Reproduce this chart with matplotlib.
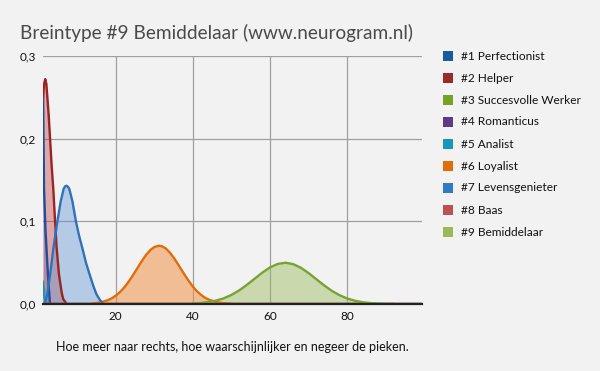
import matplotlib

matplotlib.use("Agg")
import matplotlib.pyplot as plt  # noqa: E402
from matplotlib.patches import Rectangle  # noqa: E402

# ----------------------------------------------------------------------------
# Data
# ----------------------------------------------------------------------------
TITLE = "Breintype #9 Bemiddelaar (www.neurogram.nl)"
NOTE = "Hoe meer naar rechts, hoe waarschijnlijker en negeer de pieken."

labels = [
    "#1 Perfectionist",
    "#2 Helper",
    "#3 Succesvolle Werker",
    "#4 Romanticus",
    "#5 Analist",
    "#6 Loyalist",
    "#7 Levensgenieter",
    "#8 Baas",
    "#9 Bemiddelaar",
]
legend_colors = ["#1c5aa6", "#9c2a2a", "#76a22a", "#5e3a8c", "#1a94b8",
                 "#e36c0a", "#2f7bc6", "#c0504d", "#9bbb59"]

perfectionist_x = [1.17, 1.3, 1.45, 1.8, 2.1, 2.4, 2.7, 3.0]
perfectionist_y = [0.262, 0.200, 0.138, 0.090, 0.065, 0.040, 0.018, 0.0]

helper_x = [1.17, 1.45, 1.75, 2.05, 2.3, 2.65, 3.0, 3.4, 3.85, 4.3, 4.7, 5.3, 6.0, 6.4, 7.3]
helper_y = [0.250, 0.266, 0.272, 0.266, 0.250, 0.228, 0.200, 0.168, 0.138,
            0.100, 0.068, 0.036, 0.014, 0.006, 0.0]

werker_x = [1.17, 99.35]
werker_y = [0.0, 0.0]

romanticus_x = [1.17, 99.35]
romanticus_y = [0.0, 0.0]

analist_x = [1.17, 1.35, 1.5, 1.8]
analist_y = [0.027, 0.018, 0.009, 0.0]

loyalist_x = [14, 16, 18, 19, 20, 21, 22, 23, 24, 25, 26, 27, 28, 29, 30, 31.2, 32, 33,
              34, 35, 36, 37, 38, 39, 40, 41, 42, 43, 44, 46, 48, 50]
loyalist_y = [0.0007, 0.0019, 0.0046, 0.0069, 0.0100, 0.0140, 0.0188, 0.0247, 0.0314,
              0.0387, 0.0462, 0.0535, 0.0601, 0.0653, 0.0689, 0.0705, 0.0698, 0.0671,
              0.0624, 0.0562, 0.0492, 0.0417, 0.0343, 0.0273, 0.0210, 0.0157, 0.0114,
              0.0080, 0.0055, 0.0023, 0.0009, 0.0003]

genieter_x = [1.6, 2.2, 3.0, 3.85, 4.9, 5.75, 6.5, 6.9, 7.3, 7.7, 8.0, 8.8, 9.7,
              10.5, 11.4, 12.3, 13.3, 14.2, 15.0, 15.9, 16.8]
genieter_y = [0.0, 0.010, 0.035, 0.067, 0.100, 0.124, 0.139, 0.1425, 0.143, 0.1415,
              0.139, 0.124, 0.100, 0.083, 0.067, 0.050, 0.035, 0.022, 0.012, 0.005, 0.0]

baas_x = [1.17, 99.35]
baas_y = [0.0, 0.0]

bemiddelaar_x = [40, 42, 44, 46, 48, 50, 52, 54, 56, 58, 60, 62, 64, 66, 68, 70, 72,
                 74, 76, 78, 80, 82, 84, 86, 88, 90, 92]
bemiddelaar_y = [0.0006, 0.0012, 0.0023, 0.0041, 0.0069, 0.0110, 0.0165, 0.0232,
                 0.0306, 0.0380, 0.0443, 0.0485, 0.0499, 0.0482, 0.0438, 0.0373,
                 0.0299, 0.0225, 0.0159, 0.0106, 0.0066, 0.0039, 0.0021, 0.0011,
                 0.0005, 0.0002, 0.0001]

series_x = [perfectionist_x, helper_x, werker_x, romanticus_x, analist_x,
            loyalist_x, genieter_x, baas_x, bemiddelaar_x]
series_y = [perfectionist_y, helper_y, werker_y, romanticus_y, analist_y,
            loyalist_y, genieter_y, baas_y, bemiddelaar_y]

x_ticks = [20, 40, 60, 80]
y_ticks = [0.0, 0.1, 0.2, 0.3]
y_ticklabels = ["0,0", "0,1", "0,2", "0,3"]

# ----------------------------------------------------------------------------
# Styling
# ----------------------------------------------------------------------------
BG = "#f2f2f2"
line_colors = ["#1f4e9c", "#9b2423", "#76a22a", "#5e3a8c", "#1a94b8",
               "#e36c0a", "#2f72bb", "#c0504d", "#78a232"]
fill_colors = ["#1f4e9c", "#c0393f", "#76a22a", "#5e3a8c", "#1a94b8",
               "#f08a3a", "#5b8fcf", "#c0504d", "#9bbb59"]
fill_alpha = [0.3, 0.4, 0.3, 0.3, 0.3, 0.5, 0.4, 0.3, 0.45]

plt.rcParams["font.family"] = ["Lato", "DejaVu Sans"]

fig = plt.figure(figsize=(6.0, 3.71), dpi=100, facecolor=BG)
ax = fig.add_axes([43 / 600, 67 / 371, 379 / 600, 248 / 371], facecolor=BG)

for xs, ys, lc, fc, fa in zip(series_x, series_y, line_colors, fill_colors, fill_alpha):
    ax.fill_between(xs, ys, 0, color=fc, alpha=fa, lw=0, zorder=2)
for xs, ys, lc in zip(series_x, series_y, line_colors):
    ax.plot(xs, ys, color=lc, lw=1.7, zorder=3, solid_joinstyle="round")

ax.set_xlim(1.17, 99.35)
ax.set_ylim(0, 0.3)
ax.set_xticks(x_ticks)
ax.set_yticks(y_ticks)
ax.set_yticklabels(y_ticklabels)
ax.tick_params(length=0, labelsize=8.5, colors="#111111", pad=5)
ax.grid(True, color="#a0a0a0", lw=0.9, zorder=1)
for s in ["top", "right", "left"]:
    ax.spines[s].set_visible(False)
ax.spines["bottom"].set_color("#222222")
ax.spines["bottom"].set_linewidth(1.6)
ax.spines["bottom"].set_zorder(4)

fig.text(20 / 600, 1 - 33 / 371, TITLE, fontsize=13.7, color="#4a4a4a", va="center", ha="left")
fig.text(232 / 600, 1 - 347 / 371, NOTE, fontsize=9, color="#111111", va="center", ha="center")

# manual legend on the right
for i, (lab, col) in enumerate(zip(labels, legend_colors)):
    yc = 56 + 22 * i
    fig.patches.append(Rectangle((443 / 600, 1 - (yc + 5) / 371), 10 / 600, 10 / 371,
                                 transform=fig.transFigure, facecolor=col, edgecolor="none"))
    fig.text(461 / 600, 1 - yc / 371, lab, fontsize=8.6, color="#111111", va="center", ha="left")

fig.savefig("out.png", dpi=100, facecolor=BG)
plt.close(fig)
